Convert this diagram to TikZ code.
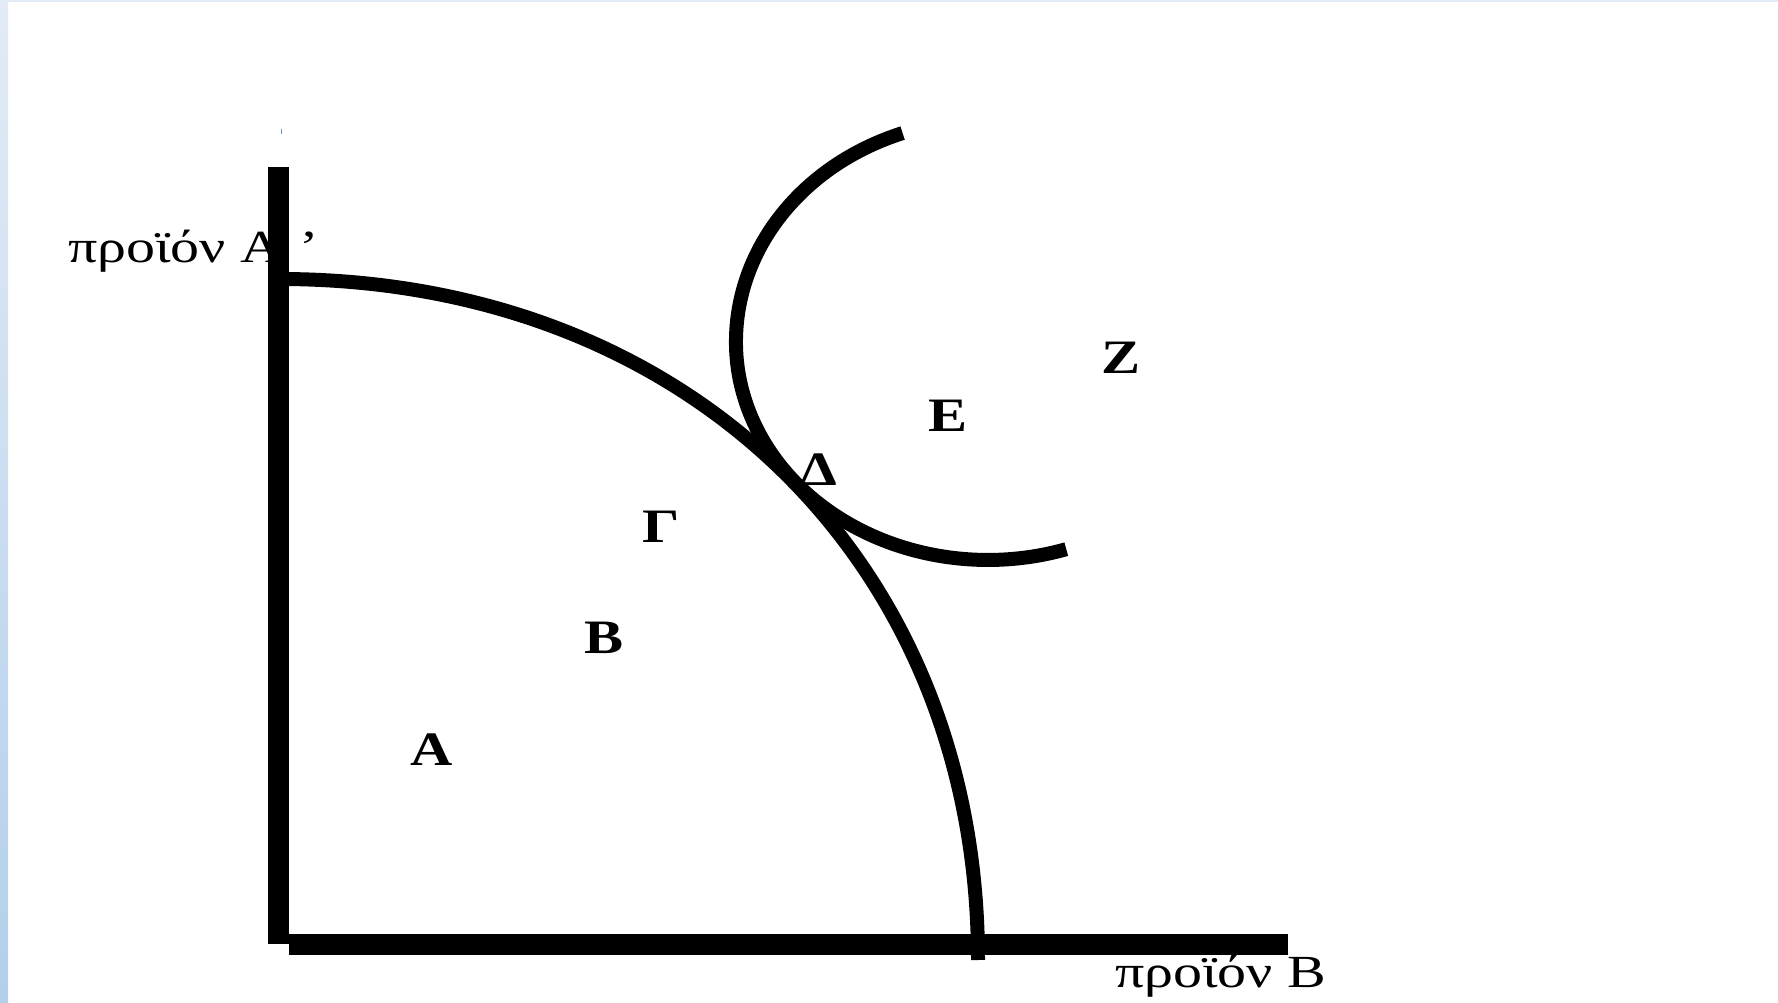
\documentclass[tikz,border=0pt]{standalone}
\usepackage{fontspec}
\usepackage{graphicx}
\setmainfont{Liberation Serif}
\definecolor{stripTop}{HTML}{E2EBF6}
\definecolor{stripBot}{HTML}{B3CFEA}
\definecolor{tickblue}{HTML}{5B9BD5}
\tikzset{
  axisline/.style={line width=21pt, black},
  curveline/.style={line width=14pt, black},
  ptlabel/.style={font=\fontsize{48}{52}\selectfont\bfseries, inner sep=0pt, anchor=center},
  axlabel/.style={font=\fontsize{46}{50}\selectfont, inner sep=0pt, anchor=base west},
}
\begin{document}
\begin{tikzpicture}[x=1pt, y=1pt]
\useasboundingbox (0,0) rectangle (1778,1002);
\fill[white] (0,0) rectangle (1778,1002);
\shade[top color=stripTop, bottom color=stripBot] (0,0) rectangle (8,1002);
\fill[stripTop] (0,1000) rectangle (1778,1002);
\draw[tickblue, line width=1pt] (281.5,873) -- (281.5,868);

% axis labels (drawn first, the axis covers them)
\node[axlabel] (labA) at (68,739) {\scalebox{1.26}[1]{προϊόν Α\hspace{0.3em}’}};
\node[axlabel] (labB) at (1115,15) {\scalebox{1.26}[1]{προϊόν Β}};

% axes
\coordinate (top) at (278.5,835);
\coordinate (corner) at (278.5,58);
\coordinate (hstart) at (289,58);
\coordinate (hend) at (1288,58);
\draw[axisline] (top) -- (corner);
\draw[axisline] (hstart) -- (hend);

% production possibility frontier
\coordinate (ppfS) at (279,723);
\coordinate (ppfE) at (978,42);
\draw[curveline] (ppfS) .. controls (688,723) and (978,440) .. (ppfE);

% indifference curve
\coordinate (icS) at (902.6,868.9);
\draw[curveline] (icS)
  arc[start angle=109.8, end angle=180, x radius=252pt, y radius=222pt]
  arc[start angle=180, end angle=288.1, x radius=252pt, y radius=218pt];

% point labels
\node[ptlabel] (Z) at (1121,644) {\scalebox{1.22}[1]{Z}};
\node[ptlabel] (E) at (948,586) {\scalebox{1.22}[1]{E}};
\node[ptlabel] (D) at (819,532) {\scalebox{1.22}[1]{Δ}};
\node[ptlabel] (G) at (661,475) {\scalebox{1.22}[1]{Γ}};
\node[ptlabel] (B) at (604,364) {\scalebox{1.22}[1]{Β}};
\node[ptlabel] (A) at (432,252) {\scalebox{1.22}[1]{Α}};
\end{tikzpicture}
\end{document}
